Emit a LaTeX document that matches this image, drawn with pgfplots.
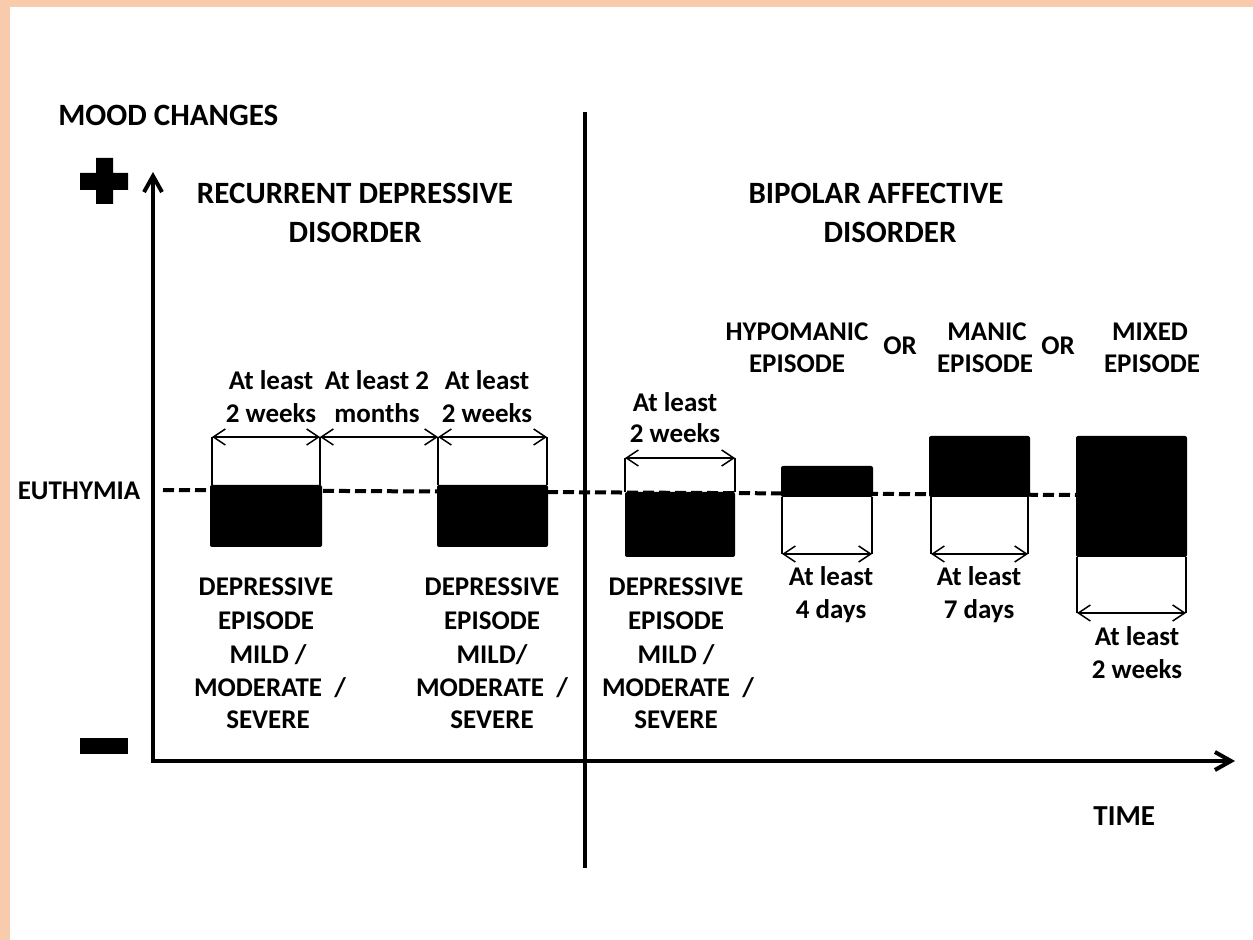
\documentclass[border=0pt]{standalone}
\usepackage{fontspec}
\setmainfont{Carlito}
\usepackage{pgfplots}
\pgfplotsset{compat=1.18}
\usetikzlibrary{arrows.meta}
\definecolor{peach}{RGB}{248,203,173}
% centred line of text at (x, baseline y) in pixel coordinates
\newcommand{\T}[3]{\node[anchor=base,inner sep=0pt,font=\bfseries\fontsize{13.5}{16}\selectfont] at (axis cs:#1,#2) {#3};}
\newcommand{\Hd}[3]{\node[anchor=base,inner sep=0pt,font=\bfseries\fontsize{15.5}{18}\selectfont] at (axis cs:#1,#2) {#3};}
\newcommand{\HL}[4]{\node[anchor=base west,inner sep=0pt,font=\bfseries\fontsize{#4}{18}\selectfont] at (axis cs:#1,#2) {#3};}
\begin{document}
\begin{tikzpicture}
\begin{axis}[
  scale only axis, width=626.5pt, height=470pt,
  xmin=0, xmax=1253, ymin=0, ymax=940, y dir=reverse,
  hide axis, clip=false,
  dimline/.style={line width=0.75pt, {Straight Barb[length=6pt,width=8pt]}-{Straight Barb[length=6pt,width=8pt]}},
  extline/.style={line width=0.75pt},
]
% background
\addplot[fill=peach, draw=none] coordinates {(0,0) (1253,0) (1253,940) (0,940)} --cycle;
\addplot[fill=white, draw=none] coordinates {(10,7) (1253,7) (1253,940) (10,940)} --cycle;

% euthymia dashed line
\addplot[line width=2pt, dash pattern=on 5.5pt off 2.5pt] coordinates {(163,490) (1076,495)};

% axes
\addplot[line width=2pt, -{Straight Barb[length=8pt,width=9pt]}] coordinates {(153,760) (153,172)};
\addplot[line width=2pt, -{Straight Barb[length=8pt,width=9pt]}] coordinates {(151,761) (1235,761)};
% divider
\addplot[line width=1.7pt] coordinates {(585,112) (585,868)};

% plus and minus signs
\addplot[fill=black, draw=none] coordinates {(96,158) (113,158) (113,173) (128,173) (128,190) (113,190) (113,204) (96,204) (96,190) (80,190) (80,173) (96,173)} --cycle;
\addplot[fill=black, draw=none] coordinates {(80,738) (128,738) (128,754) (80,754)} --cycle;

% episode boxes
\addplot[fill=black, draw=none, rounded corners=1pt] coordinates {(210,485) (322,485) (322,547) (210,547)} --cycle;
\addplot[fill=black, draw=none, rounded corners=1pt] coordinates {(437,485) (548,485) (548,547) (437,547)} --cycle;
\addplot[fill=black, draw=none, rounded corners=1pt] coordinates {(625,492) (735,492) (735,557) (625,557)} --cycle;
\addplot[fill=black, draw=none, rounded corners=1pt] coordinates {(781,466) (873,466) (873,497) (781,497)} --cycle;
\addplot[fill=black, draw=none, rounded corners=1pt] coordinates {(929,436) (1030,436) (1030,497) (929,497)} --cycle;
\addplot[fill=black, draw=none, rounded corners=1pt] coordinates {(1076,436) (1187,436) (1187,557) (1076,557)} --cycle;

% extension lines
\addplot[extline] coordinates {(212,437) (212,485)};
\addplot[extline] coordinates {(320,437) (320,485)};
\addplot[extline] coordinates {(438,437) (438,485)};
\addplot[extline] coordinates {(547,437) (547,485)};
\addplot[extline] coordinates {(625,458) (625,492)};
\addplot[extline] coordinates {(735,458) (735,492)};
\addplot[extline] coordinates {(782,497) (782,554)};
\addplot[extline] coordinates {(872,497) (872,554)};
\addplot[extline] coordinates {(931,497) (931,554)};
\addplot[extline] coordinates {(1028,497) (1028,554)};
\addplot[extline] coordinates {(1077,557) (1077,613)};
\addplot[extline] coordinates {(1186,557) (1186,613)};

% dimension arrows
\addplot[dimline] coordinates {(212,437) (320,437)};
\addplot[dimline] coordinates {(320,437) (438,437)};
\addplot[dimline] coordinates {(438,437) (547,437)};
\addplot[dimline] coordinates {(625,458) (735,458)};
\addplot[dimline] coordinates {(782,554) (872,554)};
\addplot[dimline] coordinates {(931,554) (1028,554)};
\addplot[dimline] coordinates {(1077,613) (1186,613)};

% texts
\HL{58}{126}{MOOD CHANGES}{15.5}
\Hd{355}{204}{RECURRENT DEPRESSIVE}
\Hd{355}{243}{DISORDER}
\Hd{876}{204}{BIPOLAR AFFECTIVE}
\Hd{890}{243}{DISORDER}
\T{79}{500}{EUTHYMIA}
\HL{1093}{825}{TIME}{14.5}

\T{271}{390}{At least}
\T{271}{423}{2 weeks}
\T{377}{390}{At least 2}
\T{377}{423}{months}
\T{487}{390}{At least}
\T{487}{423}{2 weeks}
\T{675}{412}{At least}
\T{675}{443}{2 weeks}

\T{797}{341}{HYPOMANIC}
\T{797}{373}{EPISODE}
\T{900}{355}{OR}
\T{987}{341}{MANIC}
\T{985}{373}{EPISODE}
\T{1058}{355}{OR}
\T{1150}{341}{MIXED}
\T{1152}{373}{EPISODE}

\T{266}{596}{DEPRESSIVE}
\T{266}{630}{EPISODE}
\T{268}{663}{MILD /}
\T{270}{697}{MODERATE \ /}
\T{268}{728}{SEVERE}

\T{492}{596}{DEPRESSIVE}
\T{492}{630}{EPISODE}
\T{492}{663}{MILD/}
\T{492}{697}{MODERATE \ /}
\T{492}{728}{SEVERE}

\T{676}{596}{DEPRESSIVE}
\T{676}{630}{EPISODE}
\T{676}{663}{MILD /}
\T{678}{697}{MODERATE \ /}
\T{676}{728}{SEVERE}

\T{831}{586}{At least}
\T{831}{619}{4 days}
\T{979}{586}{At least}
\T{979}{619}{7 days}
\T{1137}{646}{At least}
\T{1137}{678}{2 weeks}
\end{axis}
\end{tikzpicture}
\end{document}
